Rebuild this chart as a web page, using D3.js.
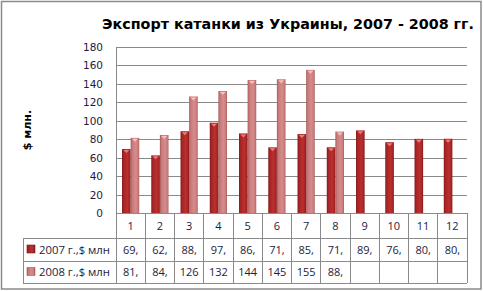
<!DOCTYPE html>
<html>
<head>
<meta charset="utf-8">
<script src="https://cdn.jsdelivr.net/npm/d3@7"></script>
<style>
  body { margin: 0; background: #fff; }
  svg { display: block; }
</style>
</head>
<body>
<div id="chart"></div>
<script>
// Data
const months = ["1", "2", "3", "4", "5", "6", "7", "8", "9", "10", "11", "12"];
const exports2007 = [69.4, 62.5, 88.7, 97.9, 86.3, 71.2, 85.6, 71.3, 89.6, 76.8, 80.4, 80.5];
const exports2008 = [81.5, 84.6, 126.4, 132.3, 144.2, 145.1, 155.2, 88.3, null, null, null, null];
const seriesNames = ["2007 г.,$ млн", "2008 г.,$ млн"];
const yTicks = [0, 20, 40, 60, 80, 100, 120, 140, 160, 180];

const width = 483, height = 291;
const margin = { left: 116, right: 16, top: 47, bottom: 78 };

const svg = d3.select("#chart").append("svg")
  .attr("width", width)
  .attr("height", height);

// gradients for the bevelled bars
const defs = svg.append("defs");
function barGradient(id, edge, mid, light) {
  const g = defs.append("linearGradient").attr("id", id)
    .attr("x1", "0%").attr("x2", "100%").attr("y1", "0%").attr("y2", "0%");
  g.append("stop").attr("offset", "0%").attr("stop-color", edge);
  g.append("stop").attr("offset", "18%").attr("stop-color", mid);
  g.append("stop").attr("offset", "60%").attr("stop-color", light);
  g.append("stop").attr("offset", "88%").attr("stop-color", mid);
  g.append("stop").attr("offset", "100%").attr("stop-color", edge);
}
barGradient("g2007", "#821818", "#a82424", "#b93030");
barGradient("g2008", "#a35a5a", "#c97979", "#d68c8c");

// outer frame
svg.append("rect")
  .attr("x", 1.5).attr("y", 1.5)
  .attr("width", width - 3.5).attr("height", height - 3.5)
  .attr("fill", "#fff")
  .attr("stroke", "#8a8a8a")
  .attr("stroke-width", 1.5);

// title
svg.append("text")
  .attr("x", 102).attr("y", 29)
  .attr("textLength", 372)
  .attr("lengthAdjust", "spacingAndGlyphs")
  .style("font-family", "'DejaVu Sans', sans-serif")
  .style("font-weight", "bold")
  .style("font-size", "13.8px")
  .attr("fill", "#000")
  .text("Экспорт катанки из Украины, 2007 - 2008 гг.");

const x = d3.scaleBand()
  .domain(months)
  .range([margin.left, width - margin.right]);

const y = d3.scaleLinear()
  .domain([0, 180])
  .range([height - margin.bottom, margin.top]);

// gridlines
svg.append("g")
  .selectAll("line")
  .data(yTicks.slice(1))
  .enter().append("line")
  .attr("x1", margin.left).attr("x2", width - margin.right)
  .attr("y1", d => Math.round(y(d)) + 0.5)
  .attr("y2", d => Math.round(y(d)) + 0.5)
  .attr("stroke", "#8a8a8a");

// y axis labels
svg.append("g")
  .selectAll("text")
  .data(yTicks)
  .enter().append("text")
  .attr("x", 103)
  .attr("y", d => y(d) + 4)
  .attr("text-anchor", "end")
  .style("font-family", "'DejaVu Sans', sans-serif")
  .style("font-size", "10.5px")
  .attr("fill", "#1c1c3c")
  .text(d => d);

// y axis title
svg.append("text")
  .attr("transform", "translate(31,130) rotate(-90)")
  .attr("text-anchor", "middle")
  .style("font-family", "'DejaVu Sans', sans-serif")
  .style("font-weight", "bold")
  .style("font-size", "11px")
  .attr("fill", "#000")
  .text("$ млн.");

// bars
const barW = 8.6;
const series = [
  { values: exports2007, fill: "url(#g2007)", cap: "#f07878", off: -barW },
  { values: exports2008, fill: "url(#g2008)", cap: "#f4c0c0", off: 0 }
];

series.forEach(s => {
  const g = svg.append("g");
  const bars = months.map((m, i) => ({ m, v: s.values[i] })).filter(d => d.v != null);
  g.selectAll("rect")
    .data(bars)
    .enter().append("rect")
    .attr("x", d => x(d.m) + x.bandwidth() / 2 + s.off)
    .attr("y", d => y(d.v))
    .attr("width", barW)
    .attr("height", d => y(0) - y(d.v))
    .attr("fill", s.fill);
  // little bevel highlight at the top
  g.selectAll("path")
    .data(bars)
    .enter().append("path")
    .attr("d", d => {
      const cx = x(d.m) + x.bandwidth() / 2 + s.off + barW / 2;
      const ty = y(d.v) + 1;
      return `M${cx - 3},${ty} L${cx + 3},${ty} L${cx},${ty + 3} Z`;
    })
    .attr("fill", s.cap);
});

// axis lines
svg.append("line")
  .attr("x1", margin.left + 0.5).attr("x2", margin.left + 0.5)
  .attr("y1", margin.top).attr("y2", y(0))
  .attr("stroke", "#8a8a8a");

// data table
const tableTop = y(0);
const rowH = [25, 23, 22];
const rowY = [tableTop, tableTop + rowH[0], tableTop + rowH[0] + rowH[1], tableTop + rowH[0] + rowH[1] + rowH[2]];
const tableLeft = 23;
const tableRight = width - margin.right;
const grid = svg.append("g").attr("stroke", "#8a8a8a").attr("shape-rendering", "crispEdges");

// horizontal lines
grid.append("line").attr("x1", margin.left).attr("x2", tableRight).attr("y1", rowY[0]).attr("y2", rowY[0]);
[1, 2, 3].forEach(r => {
  grid.append("line").attr("x1", tableLeft).attr("x2", tableRight).attr("y1", rowY[r]).attr("y2", rowY[r]);
});
// vertical lines
grid.selectAll(".vl")
  .data(months.concat(["end"]))
  .enter().append("line")
  .attr("x1", (d, i) => margin.left + i * x.bandwidth())
  .attr("x2", (d, i) => margin.left + i * x.bandwidth())
  .attr("y1", rowY[0]).attr("y2", rowY[3]);
grid.append("line").attr("x1", tableLeft).attr("x2", tableLeft).attr("y1", rowY[1]).attr("y2", rowY[3]);

const cellFont = "'Open Sans', sans-serif";

// header row (categories)
svg.append("g").selectAll("text")
  .data(months)
  .enter().append("text")
  .attr("x", d => x(d) + x.bandwidth() / 2)
  .attr("y", (rowY[0] + rowY[1]) / 2 + 4)
  .attr("text-anchor", "middle")
  .style("font-family", cellFont)
  .style("font-size", "11px")
  .attr("fill", "#1c1c3c")
  .text(d => d);

const fmt = v => v == null ? "" : (v >= 100 ? String(Math.floor(v)) : Math.floor(v) + ",");

series.forEach((s, r) => {
  const cy = (rowY[r + 1] + rowY[r + 2]) / 2 + 4;
  svg.append("g").selectAll("text")
    .data(s.values)
    .enter().append("text")
    .attr("x", (d, i) => x(months[i]) + x.bandwidth() / 2)
    .attr("y", cy)
    .attr("text-anchor", "middle")
    .style("font-family", cellFont)
    .style("font-size", "11px")
    .attr("fill", "#1c1c3c")
    .text(d => fmt(d));

  // legend key
  svg.append("rect")
    .attr("x", 27).attr("y", cy - 8.5)
    .attr("width", 8).attr("height", 8)
    .attr("fill", s.fill)
    .attr("stroke", r === 0 ? "#7a1616" : "#a05a5a")
    .attr("stroke-width", 0.6);
  svg.append("text")
    .attr("x", 39).attr("y", cy)
    .attr("textLength", 71)
    .attr("lengthAdjust", "spacingAndGlyphs")
    .style("font-family", cellFont)
    .style("font-size", "11px")
    .attr("fill", "#1c1c3c")
    .text(seriesNames[r]);
});
</script>
</body>
</html>
